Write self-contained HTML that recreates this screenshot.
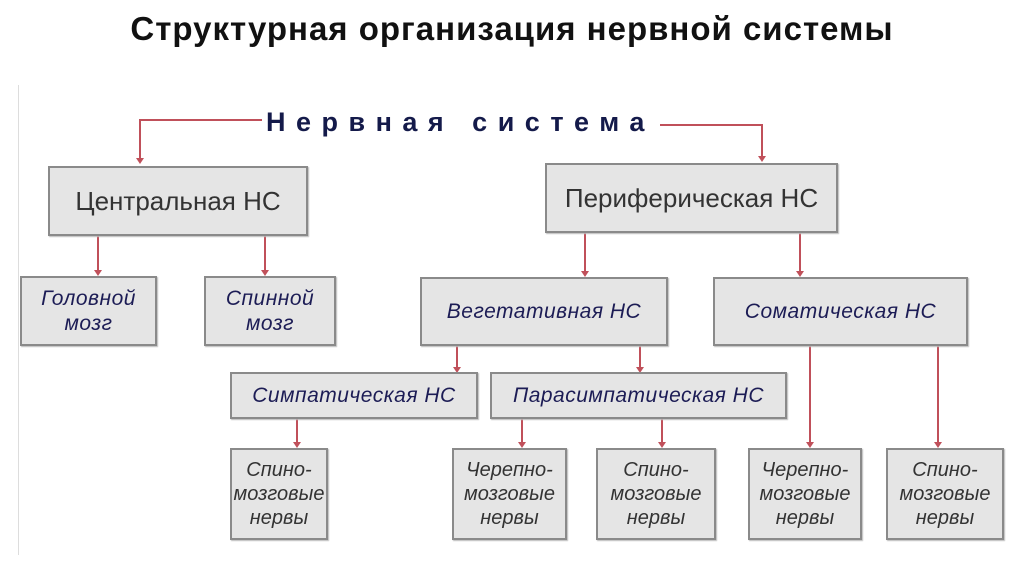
<!DOCTYPE html>
<html><head><meta charset="utf-8"><style>
body{margin:0;width:1024px;height:574px;background:#fff;position:relative;overflow:hidden;font-family:"Liberation Sans",sans-serif}
.t{position:absolute;left:0;width:1024px;top:10px;text-align:center;font-weight:bold;font-size:33px;letter-spacing:1px;color:#111}
.b{position:absolute;box-sizing:border-box;background:#e5e5e5;border:2px solid #8a8a8a;display:flex;align-items:center;justify-content:center;text-align:center;box-shadow:1px 1px 1px #bbb;white-space:nowrap}
.i{font-style:italic;font-size:21px;color:#1c1c55;line-height:25px;letter-spacing:0.5px}
.g{font-style:italic;font-size:20px;color:#333;line-height:24px}
.n{font-size:26px;color:#333}
svg{position:absolute;left:0;top:0}
</style></head><body>
<div class="t">Структурная организация нервной системы</div>
<div style="position:absolute;left:18px;top:85px;width:1px;height:470px;background:#ddd"></div>
<div style="position:absolute;left:266px;top:107px;font-size:27px;font-weight:bold;color:#141a4a;letter-spacing:10.5px;white-space:nowrap">Нервная система</div>
<svg width="1024" height="574">
<g stroke="#c0505a" stroke-width="2" fill="none">
<path d="M262 120 H140 V160"/><path d="M660 125 H762 V158"/>
<path d="M98 236 V272"/><path d="M265 236 V272"/>
<path d="M585 233 V273"/><path d="M800 233 V273"/>
<path d="M457 346 V370"/><path d="M640 346 V370"/>
<path d="M297 419 V444"/><path d="M522 419 V444"/><path d="M662 419 V444"/>
<path d="M810 346 V444"/><path d="M938 346 V444"/>
</g>
<g fill="#c0505a">
<path d="M136 158 L144 158 L140 164Z"/><path d="M758 156 L766 156 L762 162Z"/>
<path d="M94 270 L102 270 L98 276Z"/><path d="M261 270 L269 270 L265 276Z"/>
<path d="M581 271 L589 271 L585 277Z"/><path d="M796 271 L804 271 L800 277Z"/>
<path d="M453 367 L461 367 L457 373Z"/><path d="M636 367 L644 367 L640 373Z"/>
<path d="M293 442 L301 442 L297 448Z"/><path d="M518 442 L526 442 L522 448Z"/><path d="M658 442 L666 442 L662 448Z"/>
<path d="M806 442 L814 442 L810 448Z"/><path d="M934 442 L942 442 L938 448Z"/>
</g>
</svg>
<div class="b n" style="left:48px;top:166px;width:260px;height:70px">Центральная НС</div>
<div class="b n" style="left:545px;top:163px;width:293px;height:70px">Периферическая НС</div>
<div class="b i" style="left:20px;top:276px;width:137px;height:70px">Головной<br>мозг</div>
<div class="b i" style="left:204px;top:276px;width:132px;height:70px">Спинной<br>мозг</div>
<div class="b i" style="left:420px;top:277px;width:248px;height:69px">Вегетативная НС</div>
<div class="b i" style="left:713px;top:277px;width:255px;height:69px">Соматическая НС</div>
<div class="b i" style="left:230px;top:372px;width:248px;height:47px">Симпатическая НС</div>
<div class="b i" style="left:490px;top:372px;width:297px;height:47px">Парасимпатическая НС</div>
<div class="b g" style="left:230px;top:448px;width:98px;height:92px">Спино-<br>мозговые<br>нервы</div>
<div class="b g" style="left:452px;top:448px;width:115px;height:92px">Черепно-<br>мозговые<br>нервы</div>
<div class="b g" style="left:596px;top:448px;width:120px;height:92px">Спино-<br>мозговые<br>нервы</div>
<div class="b g" style="left:748px;top:448px;width:114px;height:92px">Черепно-<br>мозговые<br>нервы</div>
<div class="b g" style="left:886px;top:448px;width:118px;height:92px">Спино-<br>мозговые<br>нервы</div>
</body></html>
